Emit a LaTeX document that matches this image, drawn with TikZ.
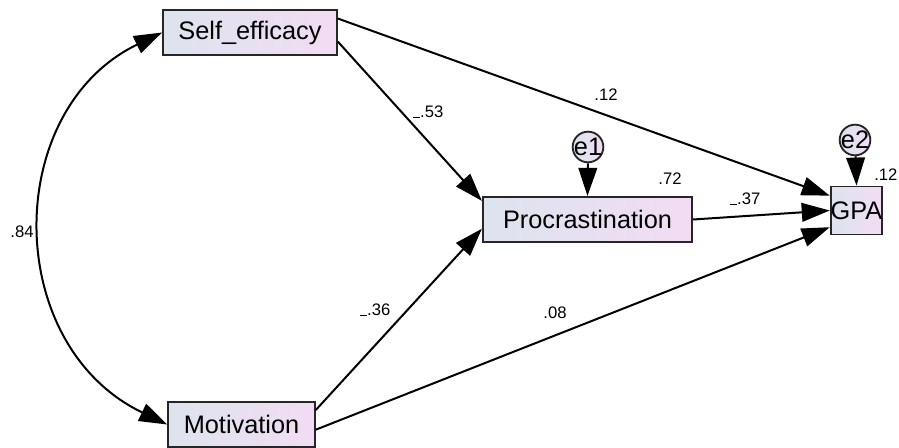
\documentclass[tikz,border=0pt]{standalone}
\usepackage{fontspec}
\setmainfont{Liberation Sans}
\usetikzlibrary{arrows.meta}
\newcommand{\lowminus}{\rule{0.45em}{0.07em}}

\tikzset{
  varbox/.style={draw=black!85, line width=1.4pt, left color={rgb,255:red,221;green,228;blue,238}, right color={rgb,255:red,242;green,220;blue,243}, inner sep=0pt, font=\fontsize{19}{22}\selectfont},
  errnode/.style={circle, draw=black!85, line width=1.4pt, left color={rgb,255:red,221;green,228;blue,238}, right color={rgb,255:red,242;green,220;blue,243}, inner sep=-2pt, minimum size=23pt, font=\fontsize{19}{22}\selectfont},
  path/.style={line width=1.5pt, -{Triangle[length=21pt,width=14pt]}},
  coef/.style={font=\fontsize{12.5}{14}\selectfont, inner sep=0.75pt}
}

\begin{document}
\begin{tikzpicture}[x=0.75pt,y=0.75pt,yscale=-1,xscale=1]
\useasboundingbox (0,0) rectangle (899,448);

% Observed variables
\node [varbox, minimum width=130.5pt, minimum height=34pt] (self) at (250,32.5) {Self\_efficacy};
\node [varbox, minimum width=110pt, minimum height=34pt] (mot) at (241.5,424.5) {Motivation};
\node [varbox, minimum width=157pt, minimum height=34pt] (proc) at (587.5,219.5) {Procrastination};
\node [varbox, minimum width=38pt, minimum height=36pt] (gpa) at (856.5,210.5) {GPA};

% Error terms
\node [errnode] (e1) at (588,147) {e1};
\node [errnode] (e2) at (855,140) {e2};

% Paths
\draw [path] (self.-6) -- (proc.170);
\draw [path] (self.9) -- (gpa.151);
\draw [path] (mot.11) -- (proc.185);
\draw [path] (mot.-4) -- (gpa.212);
\draw [path] (proc.east) -- (gpa.west);
\draw [path] (e1) -- (proc.north);
\draw [path] (e2) -- (gpa.north);

% Covariance
\draw [line width=1.5pt, {Triangle[length=21pt,width=14pt]}-{Triangle[length=21pt,width=14pt]}] (self.west) .. controls (2,110) and (2,345) .. (mot.west);

% Text Node
\node [coef] (c84) at (22,232) {.84};
% Text Node
\node [coef] (c53) at (428,112) {\lowminus.53};
% Text Node
\node [coef] (c12a) at (606,95) {.12};
% Text Node
\node [coef] (c72) at (670,179) {.72};
% Text Node
\node [coef] (c37) at (745,199) {\lowminus.37};
% Text Node
\node [coef, anchor=west] (c12b) at (873,175) {.12};
% Text Node
\node [coef] (c36) at (375,310) {\lowminus.36};
% Text Node
\node [coef] (c08) at (555,313) {.08};
\end{tikzpicture}
\end{document}
